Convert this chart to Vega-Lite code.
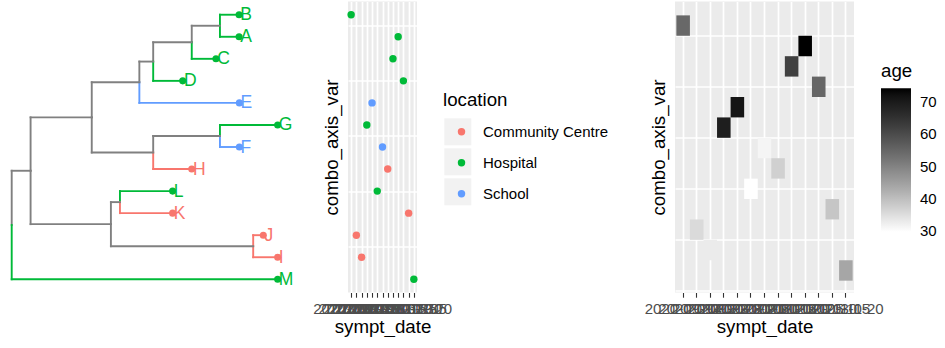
{
  "$schema": "https://vega.github.io/schema/vega-lite/v6.json",
  "padding": {"left": 0, "top": 1.5, "right": 0, "bottom": 0},
  "autosize": {"type": "pad"},
  "config": {
    "font": "Liberation Sans",
    "view": {"stroke": null},
    "axis": {
      "labelFont": "Liberation Sans",
      "labelFontSize": 15,
      "labelColor": "#4D4D4D",
      "titleFont": "Liberation Sans",
      "titleFontSize": 18.7,
      "titleFontWeight": "normal",
      "titleColor": "#000000",
      "gridColor": "#FFFFFF",
      "gridWidth": 1.7,
      "gridOpacity": 1,
      "tickColor": "#333333",
      "tickSize": 4.7,
      "tickWidth": 1.1,
      "domain": false,
      "zindex": 0
    },
    "legend": {"padding": 0, "titleFont": "Liberation Sans", "labelFont": "Liberation Sans"}
  },
  "datasets": {
    "cases": [
      {"label": "B", "row": 13, "depth": 8.55, "date": "2020-09-14", "location": "Hospital", "age": 54.8},
      {"label": "A", "row": 12, "depth": 8.55, "date": "2020-10-25", "location": "Hospital", "age": 74.3},
      {"label": "C", "row": 11, "depth": 7.68, "date": "2020-10-20", "location": "Hospital", "age": 62.3},
      {"label": "D", "row": 10, "depth": 6.43, "date": "2020-10-30", "location": "Hospital", "age": 55.2},
      {"label": "E", "row": 9, "depth": 8.56, "date": "2020-10-02", "location": "School", "age": 71.2},
      {"label": "G", "row": 8, "depth": 10.0, "date": "2020-09-28", "location": "Hospital", "age": 69.4},
      {"label": "F", "row": 7, "depth": 8.56, "date": "2020-10-11", "location": "School", "age": 31.5},
      {"label": "H", "row": 6, "depth": 6.77, "date": "2020-10-15", "location": "Community Centre", "age": 37.2},
      {"label": "L", "row": 5, "depth": 6.05, "date": "2020-10-06", "location": "Hospital", "age": 29.9},
      {"label": "K", "row": 4, "depth": 6.05, "date": "2020-11-05", "location": "Community Centre", "age": 38.8},
      {"label": "J", "row": 3, "depth": 9.46, "date": "2020-09-19", "location": "Community Centre", "age": 35.7},
      {"label": "I", "row": 2, "depth": 10.0, "date": "2020-09-23", "location": "Community Centre", "age": 33},
      {"label": "M", "row": 1, "depth": 10.0, "date": "2020-11-20", "location": "Hospital", "age": 44.1}
    ],
    "edges": [
      {"px": 0, "py": 3.461, "cx": 0.71, "cy": 5.922, "location": "none"},
      {"px": 0, "py": 3.461, "cx": 10.0, "cy": 1, "location": "Hospital"},
      {"px": 0.71, "py": 5.922, "cx": 3.01, "cy": 8.344, "location": "none"},
      {"px": 0.71, "py": 5.922, "cx": 3.73, "cy": 3.5, "location": "none"},
      {"px": 3.01, "py": 8.344, "cx": 4.80, "cy": 9.938, "location": "none"},
      {"px": 3.01, "py": 8.344, "cx": 5.32, "cy": 6.75, "location": "none"},
      {"px": 4.80, "py": 9.938, "cx": 5.32, "cy": 10.875, "location": "none"},
      {"px": 5.32, "py": 10.875, "cx": 6.77, "cy": 11.75, "location": "none"},
      {"px": 6.77, "py": 11.75, "cx": 7.83, "cy": 12.5, "location": "none"},
      {"px": 5.32, "py": 6.75, "cx": 7.83, "cy": 7.5, "location": "none"},
      {"px": 3.73, "py": 3.5, "cx": 4.07, "cy": 4.5, "location": "none"},
      {"px": 3.73, "py": 3.5, "cx": 9.08, "cy": 2.5, "location": "none"},
      {"px": 4.80, "py": 9.938, "cx": 8.56, "cy": 9, "location": "School"},
      {"px": 5.32, "py": 10.875, "cx": 6.43, "cy": 10, "location": "Hospital"},
      {"px": 6.77, "py": 11.75, "cx": 7.68, "cy": 11, "location": "Hospital"},
      {"px": 7.83, "py": 12.5, "cx": 8.55, "cy": 13, "location": "Hospital"},
      {"px": 7.83, "py": 12.5, "cx": 8.55, "cy": 12, "location": "Hospital"},
      {"px": 5.32, "py": 6.75, "cx": 6.77, "cy": 6, "location": "Community Centre"},
      {"px": 7.83, "py": 7.5, "cx": 10.0, "cy": 8, "location": "Hospital"},
      {"px": 7.83, "py": 7.5, "cx": 8.56, "cy": 7, "location": "School"},
      {"px": 4.07, "py": 4.5, "cx": 6.05, "cy": 5, "location": "Hospital"},
      {"px": 4.07, "py": 4.5, "cx": 6.05, "cy": 4, "location": "Community Centre"},
      {"px": 9.08, "py": 2.5, "cx": 9.46, "cy": 3, "location": "Community Centre"},
      {"px": 9.08, "py": 2.5, "cx": 10.0, "cy": 2, "location": "Community Centre"}
    ]
  },
  "spacing": 48,
  "bounds": "flush",
  "resolve": {
    "scale": {"color": "independent", "x": "independent", "y": "independent", "shape": "independent"},
    "legend": {"color": "independent", "shape": "independent"}
  },
  "hconcat": [
    {
      "width": 300,
      "height": 291,
      "layer": [
        {
          "data": {"name": "edges"},
          "mark": {"type": "rule", "strokeWidth": 1.9, "strokeCap": "square"},
          "encoding": {
            "x": {"field": "px", "type": "quantitative", "scale": {"domain": [-0.44, 10.84], "nice": false, "zero": false}, "axis": null},
            "y": {"field": "py", "type": "quantitative", "scale": {"domain": [0.4, 13.6], "nice": false, "zero": false}, "axis": null},
            "y2": {"field": "cy"},
            "color": {"field": "location", "type": "nominal", "scale": {"domain": ["Community Centre", "Hospital", "School", "none"], "range": ["#F8766D", "#00BA38", "#619CFF", "#808080"]}, "legend": null}
          }
        },
        {
          "data": {"name": "edges"},
          "mark": {"type": "rule", "strokeWidth": 1.9, "strokeCap": "square"},
          "encoding": {
            "x": {"field": "px", "type": "quantitative"},
            "x2": {"field": "cx"},
            "y": {"field": "cy", "type": "quantitative"},
            "color": {"field": "location", "type": "nominal", "legend": null}
          }
        },
        {
          "data": {"name": "cases"},
          "mark": {"type": "circle", "size": 50, "opacity": 1},
          "encoding": {
            "x": {"field": "depth", "type": "quantitative"},
            "y": {"field": "row", "type": "quantitative"},
            "color": {"field": "location", "type": "nominal", "legend": null}
          }
        },
        {
          "data": {"name": "cases"},
          "mark": {"type": "text", "align": "left", "baseline": "middle", "dx": 1.2, "dy": 0.5, "fontSize": 17.5, "font": "Liberation Sans"},
          "encoding": {
            "x": {"field": "depth", "type": "quantitative"},
            "y": {"field": "row", "type": "quantitative"},
            "text": {"field": "label"},
            "color": {"field": "location", "type": "nominal", "legend": null}
          }
        }
      ]
    },
    {
      "width": 69,
      "height": 291,
      "view": {"fill": "#EBEBEB", "stroke": null},
      "data": {"name": "cases"},
      "layer": [
        {
          "mark": {"type": "circle", "size": 55, "opacity": 1, "zindex": 1},
          "encoding": {
            "x": {"field": "date", "type": "ordinal", "scale": {"type": "point", "padding": 0.6},
                  "axis": {"title": "sympt_date", "labelAngle": 0, "labelOverlap": false, "grid": true, "labelPadding": 4, "titlePadding": 1, "zindex": 0}},
            "y": {"field": "row", "type": "quantitative", "scale": {"domain": [0.4, 13.6], "nice": false, "zero": false},
                  "axis": {"title": "combo_axis_var", "labels": false, "ticks": false, "domain": false, "values": [2.5, 5, 7.5, 10, 12.5], "grid": true, "titlePadding": 7, "zindex": 0}},
            "color": {"field": "location", "type": "nominal", "scale": {"range": ["#F8766D", "#00BA38", "#619CFF"]},
                      "legend": {"orient": "none", "legendX": 95, "legendY": 89, "title": "location", "titleFontSize": 18.7, "titleFontWeight": "normal", "titleColor": "#000000", "labelFontSize": 15, "labelColor": "#000000", "symbolSize": 55, "symbolType": "circle", "symbolOffset": 11, "labelOffset": 14, "rowPadding": 15, "titlePadding": 15, "zindex": 1}}
          }
        },
        {
          "mark": {"type": "point", "shape": "square", "filled": true, "color": "#F2F2F2", "opacity": 0},
          "encoding": {
            "x": {"field": "date", "type": "ordinal"},
            "y": {"field": "row", "type": "quantitative"},
            "shape": {"field": "location", "type": "nominal", "scale": {"domain": ["Community Centre", "Hospital", "School"], "range": ["square", "square", "square"]},
                      "legend": {"orient": "none", "legendX": 96.3, "legendY": 116.8, "title": null, "symbolSize": 729, "symbolStrokeWidth": 0, "symbolFillColor": "#F2F2F2", "labelOpacity": 0, "rowPadding": 3, "zindex": 0}}
          }
        }
      ]
    },
    {
      "width": 162,
      "height": 291,
      "data": {"values": [{"v": 1}]},
      "mark": {"type": "text", "text": ""},
      "encoding": {}
    },
    {
      "width": 179,
      "height": 291,
      "view": {"fill": "#EBEBEB", "stroke": null},
      "data": {"name": "cases"},
      "mark": {"type": "rect", "height": 20.4, "zindex": 1},
      "encoding": {
        "x": {"field": "date", "type": "ordinal", "scale": {"type": "band", "paddingInner": 0, "paddingOuter": 0.1},
              "axis": {"title": "sympt_date", "labelAngle": 0, "labelOverlap": false, "grid": true, "bandPosition": 0.5, "labelPadding": 4, "titlePadding": 1, "zindex": 0}},
        "y": {"field": "row", "type": "quantitative", "scale": {"domain": [-0.08, 14.18], "nice": false, "zero": false},
              "axis": {"title": "combo_axis_var", "labels": false, "ticks": false, "domain": false, "values": [0, 2.5, 5, 7.5, 10, 12.5], "grid": true, "titlePadding": 7, "zindex": 0}},
        "color": {"field": "age", "type": "quantitative", "scale": {"domain": [29.9, 74.3], "range": ["#FFFFFF", "#000000"], "interpolate": "lab", "nice": false, "zero": false},
                  "legend": {"orient": "none", "legendX": 206, "legendY": 60.5, "title": "age", "titleFontSize": 18.7, "titleFontWeight": "normal", "titleColor": "#000000", "titlePadding": 7.6, "gradientLength": 143.4, "gradientThickness": 30, "direction": "vertical", "labelFontSize": 15, "labelColor": "#000000", "labelOffset": 9, "values": [30, 40, 50, 60, 70], "gradientStrokeWidth": 0}}
      }
    }
  ]
}
